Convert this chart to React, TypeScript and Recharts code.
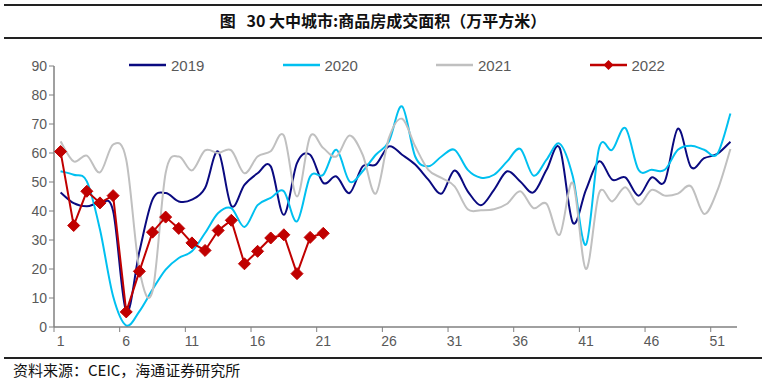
import React from 'react';
import { LineChart, Line, XAxis, YAxis } from 'recharts';

const weeks = Array.from({ length: 52 }, (_, i) => i + 1);

const s2019 = [
  46.4, 42.7, 41.6, 42.7, 40.0, 5.4, 26.0, 43.9, 46.2, 43.3,
  43.9, 47.9, 60.5, 41.8, 49.0, 53.0, 55.4, 38.7, 56.5, 59.4,
  49.7, 51.9, 46.2, 55.4, 56.0, 62.3, 59.4, 56.0, 50.8, 46.0,
  54.0, 46.8, 42.0, 47.3, 53.7, 50.2, 46.4, 54.2, 61.7, 36.0,
  47.3, 57.1, 50.8, 51.6, 45.3, 51.6, 50.2, 68.4, 55.1, 58.2,
  59.7, 63.9,
];

const s2020 = [
  53.7, 52.5, 50.2, 33.6, 10.6, 0.5, 5.4, 12.9, 19.8, 23.8,
  26.1, 32.4, 39.3, 41.0, 34.5, 42.0, 44.5, 46.8, 36.4, 51.9,
  52.5, 61.1, 50.2, 53.7, 59.4, 64.0, 76.1, 58.8, 55.4, 58.8,
  61.1, 54.2, 51.5, 52.5, 57.1, 61.4, 52.2, 57.7, 63.2, 51.9,
  28.4, 61.7, 61.1, 68.6, 54.2, 54.2, 54.2, 61.1, 62.5, 61.1,
  59.7, 73.6,
];

const s2021 = [
  64.0, 57.1, 59.1, 53.3, 62.9, 57.7, 19.8, 12.3, 53.1, 58.8,
  54.0, 60.9, 60.0, 60.9, 53.0, 58.8, 60.6, 66.0, 45.0, 65.7,
  61.7, 58.8, 66.0, 59.4, 46.0, 65.2, 71.8, 62.3, 54.2, 51.4,
  48.5, 40.6, 40.3, 40.6, 42.5, 46.8, 41.0, 42.5, 31.8, 49.7,
  20.0, 46.2, 43.3, 48.2, 42.2, 47.3, 45.3, 46.0, 48.5, 39.0,
  47.0, 61.4,
];

const s2022 = [
  60.5, 35.0, 46.8, 42.8, 45.3, 5.2, 19.2, 32.7, 37.9, 34.0,
  29.0, 26.4, 33.3, 36.8, 21.8, 26.1, 30.7, 31.8, 18.4, 30.9,
  32.3,
];

const yTicks = [0, 10, 20, 30, 40, 50, 60, 70, 80, 90];

const series = [
  { key: 'y2019', name: '2019', color: '#0a0a80' },
  { key: 'y2020', name: '2020', color: '#00c0f0' },
  { key: 'y2021', name: '2021', color: '#c0c0c0' },
  { key: 'y2022', name: '2022', color: '#c00000' },
];

const data = weeks.map((w, i) => ({
  week: w,
  y2019: s2019[i],
  y2020: s2020[i],
  y2021: s2021[i],
  y2022: i < s2022.length ? s2022[i] : null,
}));

// Excel-style smoothed line (Catmull-Rom through every point)
const smooth = (context: any) => {
  let pts: number[][] = [];
  return {
    areaStart() {},
    areaEnd() {},
    lineStart() {
      pts = [];
    },
    point(x: number, y: number) {
      pts.push([+x, +y]);
    },
    lineEnd() {
      if (!pts.length) return;
      context.moveTo(pts[0][0], pts[0][1]);
      const t = 1 / 6;
      for (let i = 0; i < pts.length - 1; i++) {
        const p0 = pts[i - 1] || pts[i];
        const p1 = pts[i];
        const p2 = pts[i + 1];
        const p3 = pts[i + 2] || p2;
        context.bezierCurveTo(
          p1[0] + (p2[0] - p0[0]) * t,
          p1[1] + (p2[1] - p0[1]) * t,
          p2[0] - (p3[0] - p1[0]) * t,
          p2[1] - (p3[1] - p1[1]) * t,
          p2[0],
          p2[1]
        );
      }
    },
  };
};

const AXIS = '#808080';
const LABEL = '#595959';
const FONT = '"Liberation Sans", Arial, sans-serif';
const CJK = '"Noto Sans CJK SC", sans-serif';

const Diamond = (props: any) => {
  const { cx, cy } = props;
  if (cx == null || cy == null) return null;
  const r = 6;
  return (
    <polygon
      points={`${cx},${cy - r} ${cx + r},${cy} ${cx},${cy + r} ${cx - r},${cy}`}
      fill="#c00000"
      stroke="#c00000"
    />
  );
};

// category label in the middle, tick mark on the boundary before it
const WeekTick = (props: any) => {
  const { x, y, payload } = props;
  const half = 683 / 52 / 2;
  return (
    <g>
      <line x1={x - half} x2={x - half} y1={y - 8} y2={y - 3} stroke={AXIS} />
      <text x={x} y={y + 11} textAnchor="middle" fill={LABEL} fontSize={14} fontFamily={FONT}>
        {payload.value}
      </text>
    </g>
  );
};

const App: React.FC = () => {
  return (
    <div
      style={{
        position: 'absolute',
        left: 0,
        top: 0,
        width: 766,
        height: 387,
        background: '#fff',
        overflow: 'hidden',
      }}
    >
      <div style={{ position: 'absolute', left: 4, right: 4, top: 4, borderTop: '2px solid #222' }} />
      <div
        style={{
          position: 'absolute',
          left: 0,
          width: 766,
          top: 8,
          textAlign: 'center',
          fontFamily: CJK,
          fontWeight: 700,
          fontSize: 16,
          lineHeight: '24px',
          color: '#111',
          whiteSpace: 'pre',
        }}
      >
        {'图   30 大中城市:商品房成交面积（万平方米）'}
      </div>
      <div style={{ position: 'absolute', left: 4, right: 4, top: 37, borderTop: '2px solid #222' }} />

      <LineChart
        width={766}
        height={387}
        data={data}
        margin={{ top: 66, right: 29, bottom: 40, left: 24 }}
        style={{ position: 'absolute', left: 0, top: 0 }}
      >
        <XAxis
          dataKey="week"
          scale="band"
          interval={4}
          tickLine={false}
          axisLine={{ stroke: AXIS, strokeWidth: 1.5 }}
          tick={<WeekTick />}
          height={20}
        />
        <YAxis
          domain={[0, 90]}
          ticks={yTicks}
          width={30}
          interval={0}
          tickSize={5}
          tickLine={{ stroke: AXIS }}
          axisLine={{ stroke: AXIS, strokeWidth: 1.5 }}
          tick={{ fill: LABEL, fontSize: 14, fontFamily: FONT }}
        />
        {series.slice(0, 3).map((s) => (
          <Line
            key={s.key}
            dataKey={s.key}
            name={s.name}
            type={smooth as any}
            stroke={s.color}
            strokeWidth={2}
            dot={false}
            isAnimationActive={false}
          />
        ))}
        <Line
          dataKey="y2022"
          name="2022"
          type="linear"
          stroke="#c00000"
          strokeWidth={2}
          dot={<Diamond />}
          activeDot={false}
          isAnimationActive={false}
        />
      </LineChart>

      <div
        style={{
          position: 'absolute',
          left: 129,
          top: 55,
          display: 'flex',
          fontFamily: FONT,
          fontSize: 15,
          color: LABEL,
        }}
      >
        {series.map((s) => (
          <div key={s.key} style={{ width: 153.5, display: 'flex', alignItems: 'center', height: 20 }}>
            <svg width={40} height={12} style={{ marginRight: 2 }}>
              <line x1={0} x2={37} y1={6} y2={6} stroke={s.color} strokeWidth={2.5} />
              {s.key === 'y2022' && (
                <polygon points="18.5,1 23.5,6 18.5,11 13.5,6" fill={s.color} />
              )}
            </svg>
            <span>{s.name}</span>
          </div>
        ))}
      </div>

      <div style={{ position: 'absolute', left: 4, right: 4, top: 357, borderTop: '2px solid #222' }} />
      <div
        style={{
          position: 'absolute',
          left: 13,
          top: 360,
          fontFamily: CJK,
          fontSize: 15,
          lineHeight: '20px',
          color: '#111',
        }}
      >
        资料来源：CEIC，海通证券研究所
      </div>
    </div>
  );
};

export default App;
